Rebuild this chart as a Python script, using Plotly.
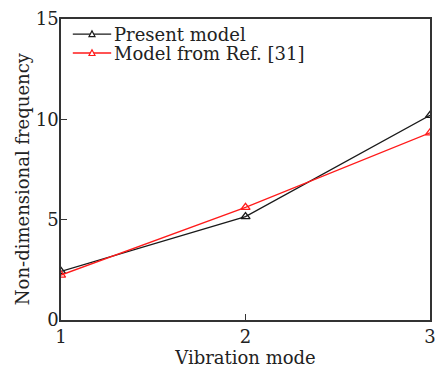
import plotly.graph_objects as go

modes = [1, 2, 3]
present_model = [2.42, 5.15, 10.2]
ref_model = [2.24, 5.61, 9.33]
series_names = ["Present model", "Model from Ref. [31]"]
series_colors = ["#1a1a1a", "#ff1a1a"]

FONT = "DejaVu Serif"
AXIS_COLOR = "#333333"
TEXT_COLOR = "#222222"

fig = go.Figure()
for vals, name, color in zip([present_model, ref_model], series_names, series_colors):
    fig.add_trace(go.Scatter(
        x=modes, y=vals, mode="lines+markers", name=name, showlegend=False,
        line=dict(color=color, width=1.3),
        marker=dict(symbol="triangle-up-open", size=8, color=color,
                    line=dict(width=1.3)),
    ))

# compact legend drawn in paper coordinates (tight row spacing)
legend_rows_y = [0.950, 0.887]
for row_y, name, color in zip(legend_rows_y, series_names, series_colors):
    fig.add_shape(type="line", xref="paper", yref="paper",
                  x0=0.032, x1=0.136, y0=row_y, y1=row_y,
                  line=dict(color=color, width=1.3))
    fig.add_shape(type="path", xref="paper", yref="paper",
                  xsizemode="pixel", ysizemode="pixel",
                  xanchor=0.084, yanchor=row_y,
                  path="M-3,-2.5 L3,-2.5 L0,3.2 Z",
                  line=dict(color=color, width=1.2), fillcolor="white")
    fig.add_annotation(xref="paper", yref="paper", x=0.137, y=row_y,
                       xanchor="left", yanchor="middle", showarrow=False,
                       text=name, font=dict(family=FONT, size=18, color=TEXT_COLOR))

# y-axis title as a rotated annotation so it can sit slightly below centre
fig.add_annotation(xref="paper", yref="paper", x=0, y=0.468, xshift=-39,
                   xanchor="center", yanchor="middle", showarrow=False,
                   textangle=-90, text="Non-dimensional frequency",
                   font=dict(family=FONT, size=18, color=TEXT_COLOR))

axis_common = dict(
    showgrid=False, zeroline=False, showline=True, mirror=True,
    linecolor=AXIS_COLOR, linewidth=1.5,
    ticks="inside", ticklen=6, tickwidth=1.3, tickcolor=AXIS_COLOR,
    tickfont=dict(family=FONT, size=18, color=TEXT_COLOR),
)

fig.update_layout(
    width=442, height=371,
    margin=dict(l=61, r=6, t=19, b=51),
    paper_bgcolor="white", plot_bgcolor="white",
    font=dict(family=FONT, size=18, color=TEXT_COLOR),
    showlegend=False,
    xaxis=dict(range=[1, 3], tickvals=[1, 2, 3],
               title=dict(text="Vibration mode", standoff=4,
                          font=dict(family=FONT, size=18)),
               **axis_common),
    yaxis=dict(range=[0, 15], tickvals=[0, 5, 10, 15], ticklabelstandoff=-3,
               **axis_common),
)

fig.write_html("out.html")
